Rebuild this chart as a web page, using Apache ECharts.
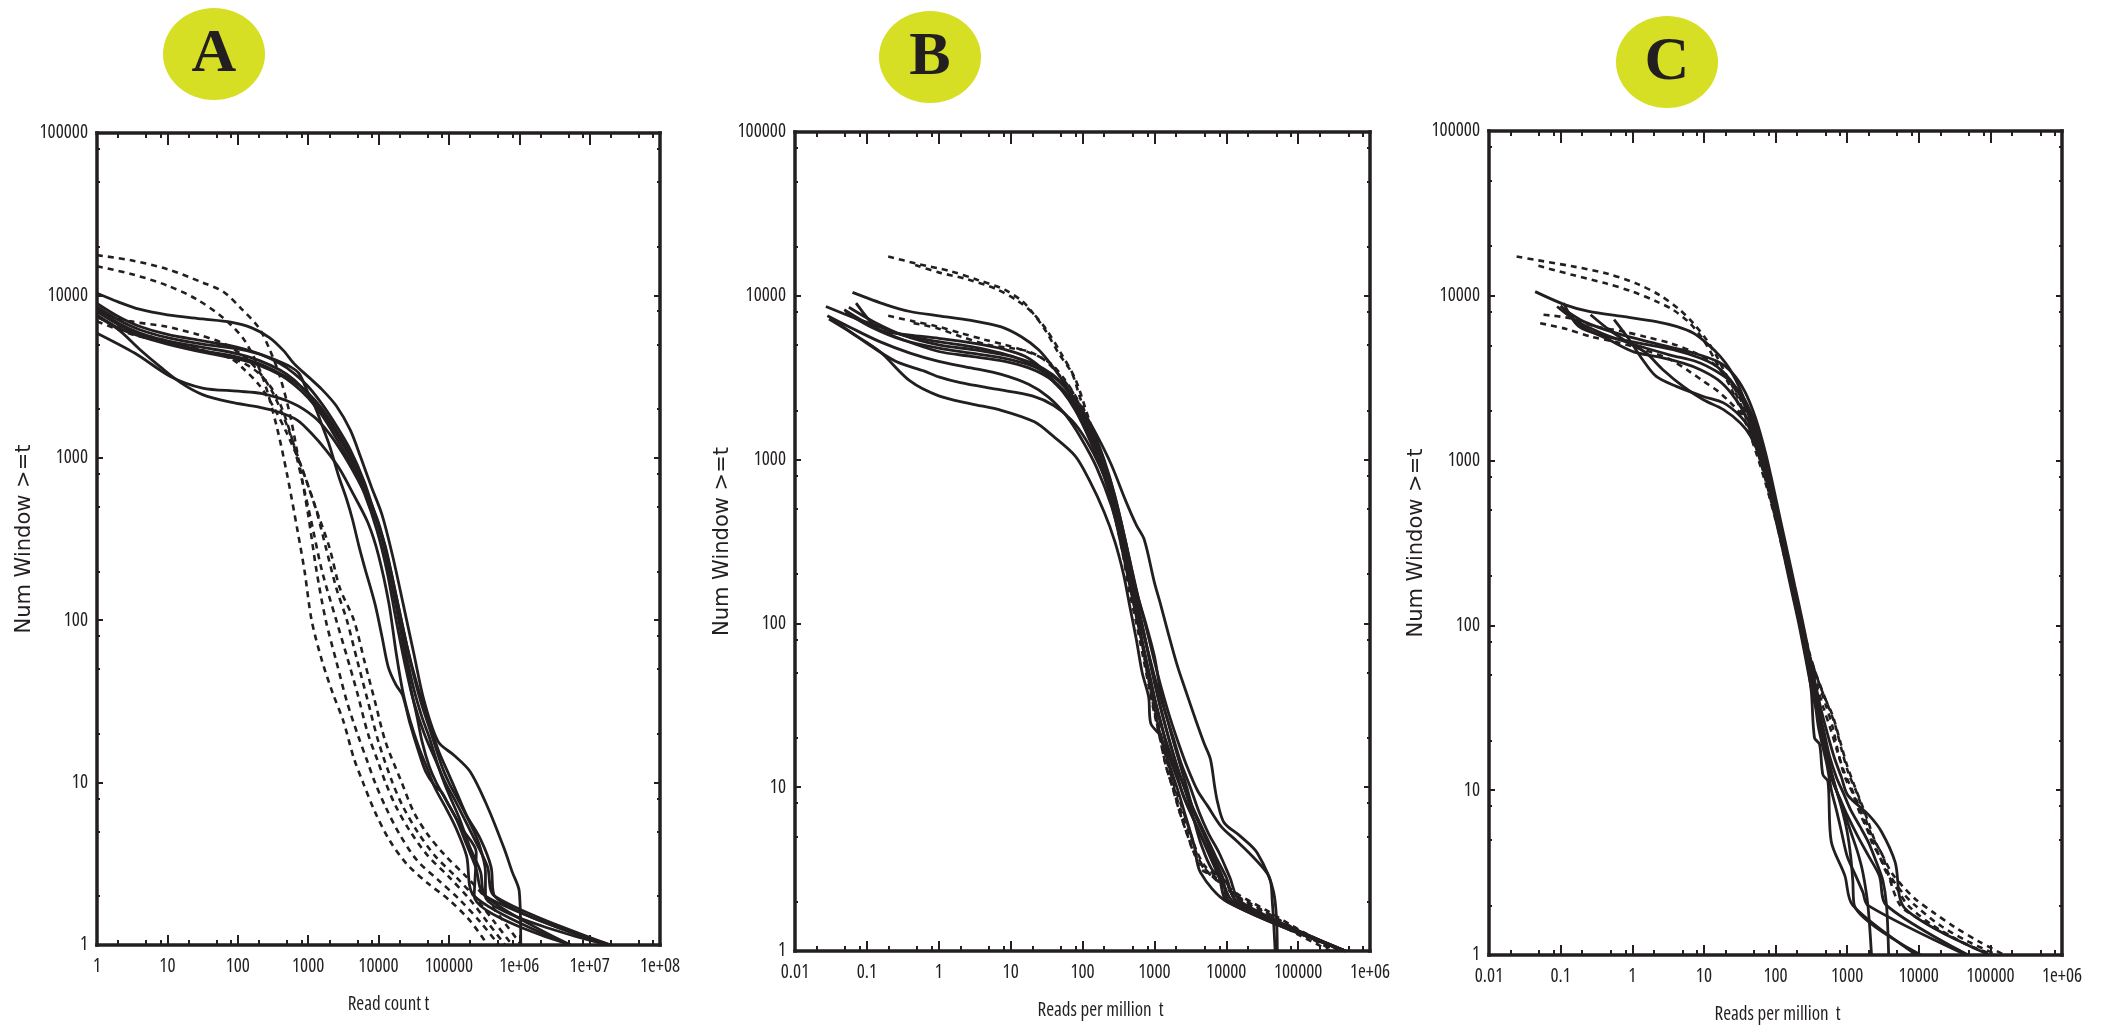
<!DOCTYPE html>
<html><head><meta charset="utf-8">
<script src="https://cdn.jsdelivr.net/npm/echarts@6/dist/echarts.min.js"></script>
<style>html,body{margin:0;padding:0;background:#fff;}#chart{width:2103px;height:1036px;}</style>
</head><body><div id="chart"></div>
<script>
// ---------- tick values and labels ----------
const yTicks = [1, 10, 100, 1000, 10000, 100000];
const yTickLabels = ['1', '10', '100', '1000', '10000', '100000'];
const yMinorTicks = [2, 5, 8, 20, 50, 80, 200, 500, 800, 2000, 5000, 8000, 20000, 50000, 80000];
const xTicksA = [1, 10, 100, 1000, 10000, 100000, 1000000, 10000000, 100000000];
const xTickLabelsA = ['1', '10', '100', '1000', '10000', '100000', '1e+06', '1e+07', '1e+08'];
const xMinorTicksA = [2, 5, 8, 20, 50, 80, 200, 500, 800, 2000, 5000, 8000, 20000, 50000, 80000,
  200000, 500000, 800000, 2000000, 5000000, 8000000, 20000000, 50000000, 80000000];
const xTicksBC = [0.01, 0.1, 1, 10, 100, 1000, 10000, 100000, 1000000];
const xTickLabelsBC = ['0.01', '0.1', '1', '10', '100', '1000', '10000', '100000', '1e+06'];
const xMinorTicksBC = [0.02, 0.05, 0.08, 0.2, 0.5, 0.8, 2, 5, 8, 20, 50, 80, 200, 500, 800,
  2000, 5000, 8000, 20000, 50000, 80000, 200000, 500000, 800000];

const panelLetters = ['A', 'B', 'C'];
const xNames = ['Read count t', 'Reads per million  t', 'Reads per million  t'];
const yName = 'Num Window >=t';

// ---------- Panel A (read count) ----------
const A_dash1 = [[1,17700],[3.16,16400],[10,14500],[31.6,12000],[63,10500],[112,8300],[200,6300],[282,4680],[398,3160],[562,1780],[759,891],[1000,447],[1320,200],[1780,100],[2510,56],[3550,31.6],[5010,20],[7080,13.2],[8910,10],[12600,7.08],[20000,4.79],[35500,3.31],[70800,2.51],[141000,1.91],[282000,1.38],[513000,1]];
const A_dash2 = [[1,15100],[3.16,13500],[10,11500],[25.1,9550],[63,7240],[126,5250],[224,3160],[355,1580],[501,794],[708,355],[891,200],[1120,100],[1580,56],[2240,35.5],[3160,24],[4470,14.1],[6030,10],[8910,6.6],[14100,4.47],[25100,3.16],[50100,2.4],[100000,1.9],[200000,1.41],[355000,1]];
const A_dash3 = [[1,6920],[3.16,5750],[10,5130],[31.6,4570],[100,3980],[200,3310],[355,2400],[562,1410],[832,708],[1120,398],[1580,200],[2510,100],[3550,60],[5010,35.5],[7080,20],[10000,13.2],[12600,10],[17800,7.08],[28200,5.01],[50100,3.55],[100000,2.63],[200000,1.9],[355000,1.38],[631000,1]];
const A_dash4 = [[1,7940],[3.02,6920],[9.12,6460],[26.9,5750],[66.1,5010],[126,4170],[200,3390],[316,2510],[501,1580],[794,891],[1260,501],[1780,282],[2510,158],[3550,100],[5010,56],[7080,31.6],[10000,17.8],[15800,10],[22400,7.08],[35500,5.01],[63100,3.55],[126000,2.63],[251000,1.9],[447000,1.38],[794000,1]];
const A_dash5 = [[1,7410],[2.4,6170],[8.13,5370],[26.9,4680],[81.3,4070],[126,3470],[200,2820],[316,2090],[501,1410],[794,891],[1260,501],[2000,282],[2820,158],[4470,100],[6310,56],[8910,31.6],[12600,17.8],[21400,10],[31600,6.6],[50100,4.79],[89100,3.55],[178000,2.63],[316000,2],[562000,1.45],[1070000,1]];
const A_solid1 = [[1,10300],[2,9120],[3.98,8220],[10,7590],[31.6,7160],[79.4,6840],[158,6310],[282,5500],[447,4570],[631,3800],[1000,3160],[1580,2630],[2510,2090],[3980,1480],[5620,1000],[7940,661],[11200,447],[15800,251],[22400,126],[31600,63],[44700,31.6],[70800,17.8],[117000,14.8],[200000,11.7],[355000,7.08],[603000,3.98],[794000,2.82],[1000000,2.14],[1050000,1]];
const A_solid2 = [[1,8910],[2,7410],[3.98,6460],[10,5750],[31.6,5250],[100,4790],[200,4370],[398,3800],[631,3310],[1000,2750],[1580,2140],[2510,1580],[3980,1120],[6310,708],[8910,447],[12600,282],[17800,141],[25100,70.8],[35500,39.8],[50100,25.1],[70800,15.8],[100000,11.2],[126000,8.91],[178000,6.31],[282000,4.47],[398000,3.02],[447000,2],[20000000,1]];
const A_solid3 = [[1,8510],[2,7080],[3.98,6170],[10,5500],[31.6,5010],[100,4680],[200,4370],[355,3980],[562,3630],[741,3310],[1000,2510],[1290,2000],[1580,1580],[2000,1200],[2750,759],[3550,550],[4270,417],[5250,288],[6310,214],[8910,126],[11200,79.4],[13800,51.3],[17800,39.8],[21900,34.7],[28200,22.9],[37200,15.5],[46800,11.7],[63100,9.55],[79400,8.71],[100000,7.24],[158000,5.13],[245000,3.72],[229000,2],[5370000,1]];
const A_solid4 = [[1,8220],[2,6760],[3.98,5890],[10,5250],[31.6,4790],[100,4370],[200,3980],[398,3470],[631,3020],[1000,2450],[1580,1910],[2510,1410],[3980,1000],[6310,631],[10000,380],[14100,224],[20000,112],[28200,56.2],[39800,31.6],[56200,20],[79400,12.6],[100000,10],[141000,7.59],[200000,5.62],[269000,4.17],[331000,2.82],[331000,2],[17800000,1]];
const A_solid5 = [[1,7940],[2,6610],[3.98,5750],[10,5130],[31.6,4570],[100,4170],[200,3800],[398,3310],[631,2950],[1000,2510],[1580,2000],[2510,1480],[3980,1050],[6310,661],[10000,398],[13200,251],[17800,132],[24000,66.1],[31600,38],[41700,25.1],[52500,19.1],[70800,12.6],[89100,9.55],[112000,7.59],[141000,6.03],[200000,3.98],[282000,2.82],[331000,2],[5370000,1]];
const A_solid6 = [[1,5850],[3.47,4400],[11.2,3160],[31.6,2690],[100,2570],[214,2490],[603,2170],[1230,1780],[2000,1410],[3160,1050],[5010,741],[7940,501],[11200,316],[15800,158],[21400,79.4],[28200,39.8],[35500,25.1],[41700,17.8],[52500,12.6],[66100,10],[89100,7.94],[126000,6.03],[178000,4.17],[240000,3.02],[331000,2],[17800000,1]];
const A_solid7 = [[1,7410],[2,6170],[3.98,4680],[7.94,3630],[15.8,2880],[31.6,2450],[79.4,2200],[200,2050],[398,1900],[708,1700],[1120,1410],[1780,1120],[2820,851],[4470,589],[7080,398],[10000,251],[14100,126],[17800,63.1],[22400,35.5],[28200,24],[37200,16.6],[47900,12.6],[63100,9.33],[89100,7.08],[126000,5.25],[178000,3.55],[229000,2],[5370000,1]];
const A_solid8 = [[1,7590],[2,6310],[3.98,5620],[10,5010],[31.6,4470],[100,4070],[200,3720],[398,3240],[631,2820],[1000,2340],[1580,1820],[2510,1320],[3980,933],[6310,603],[9550,355],[13200,200],[17800,100],[24000,52.5],[31600,31.6],[44700,20],[63100,14.1],[89100,10],[126000,7.59],[178000,5.62],[251000,4.17],[355000,3.02],[447000,2],[20000000,1]];

// ---------- Panel B (reads per million) ----------
const B_dash1 = [[0.198,17400],[0.469,15800],[1.48,14100],[3.49,12500],[8.26,10900],[14.7,9230],[19.6,8020],[30.1,6210],[46.2,4480],[71.3,3370],[89.1,2510],[126,1580],[178,955],[251,562],[355,282],[447,158],[562,100],[708,60.3],[851,39.8],[1000,28.2],[1200,20],[1410,14.1],[1780,10],[2240,7.08],[2820,5.25],[3550,3.98],[5010,3.16],[7940,2.63],[15800,2],[39800,1.58],[100000,1.26],[282000,1]];
const B_dash2 = [[0.47,15400],[1,13900],[2.51,12600],[6.31,11000],[12.6,9300],[20,7900],[31.6,6200],[50.1,4470],[79.4,3100],[112,2000],[158,1260],[224,759],[316,398],[417,224],[525,132],[661,79.4],[794,50.1],[955,35.5],[1120,25.1],[1350,17.8],[1660,12.6],[2000,8.91],[2510,6.61],[3310,4.79],[4170,3.63],[5620,3.02],[8910,2.51],[17800,2],[50100,1.58],[126000,1.26],[355000,1]];
const B_dash3 = [[0.198,7550],[0.446,6980],[0.953,6500],[2.03,5920],[4.34,5400],[8.32,5020],[14.3,4690],[27.4,4170],[37.9,3790],[56.2,3090],[89.1,2240],[141,1410],[224,794],[316,447],[417,251],[525,141],[631,89.1],[759,56.2],[891,38],[1050,26.3],[1260,17.8],[1510,12.6],[1860,9.55],[2240,7.08],[2820,5.25],[3550,3.98],[4470,3.16],[7080,2.82],[12600,2.24],[31600,1.78],[100000,1.32],[316000,1]];
const B_dash4 = [[0.447,6810],[1,6300],[2,5650],[4.84,5020],[10,4800],[17.8,4570],[28.2,4120],[44.7,3390],[70.8,2630],[112,1780],[178,1070],[263,631],[355,355],[457,200],[562,120],[676,75.9],[794,50.1],[933,35.5],[1100,25.1],[1320,17.8],[1580,13.2],[1910,10],[2400,7.59],[3020,5.62],[3800,4.17],[5010,3.31],[7590,2.82],[14100,2.24],[35500,1.78],[112000,1.32],[398000,1]];
const B_solid1 = [[0.0631,10500],[0.186,8810],[0.398,8020],[1,7550],[2.82,7080],[7.41,6460],[14.1,5620],[24.5,4680],[38,3720],[58.9,2820],[89.1,2090],[138,1510],[200,1000],[282,603],[398,316],[562,158],[759,100],[1000,63.1],[1260,35.5],[1780,20],[2240,14.1],[2820,10],[3550,7.08],[5010,5.01],[7080,3.55],[8910,2.82],[11200,2],[457000,1]];
const B_solid2 = [[0.0708,9020],[0.135,6350],[0.186,6030],[0.398,5750],[1,5500],[3.16,5130],[7.94,4730],[15.8,4270],[28.2,3550],[50.1,2690],[79.4,2000],[126,1320],[200,794],[282,447],[398,224],[525,126],[661,79.4],[891,44.7],[1120,28.2],[1410,20],[2000,12.6],[2510,8.91],[3550,6.31],[4790,4.79],[6610,3.55],[8910,2.63],[12600,2],[457000,1]];
const B_solid3 = [[0.0269,8610],[0.0631,7410],[0.151,6460],[0.324,5750],[1,5250],[2.82,4900],[7.41,4470],[14.1,4070],[27.5,3470],[42.7,2880],[72.4,2240],[112,1580],[178,1000],[263,562],[363,316],[479,158],[603,100],[794,56.2],[1000,35.5],[1260,24],[1580,15.8],[2090,11.2],[2820,7.94],[3980,5.62],[5620,3.98],[7940,2.82],[10500,2],[457000,1]];
const B_solid4 = [[0.0484,8220],[0.135,6310],[0.324,5370],[1,4570],[2.82,4270],[8.32,3980],[17.8,3630],[33.9,3160],[58.9,2570],[89.1,2000],[141,1320],[224,794],[316,447],[427,251],[562,141],[708,89.1],[933,50.1],[1200,31.6],[1580,20],[2090,13.2],[2630,10],[3550,7.24],[5010,5.25],[7080,3.8],[10000,2.82],[14100,2],[457000,1]];
const B_solid5 = [[0.0282,7550],[0.0631,6310],[0.151,5250],[0.398,4470],[1,3980],[2.82,3630],[7.41,3310],[17.8,2880],[33.9,2400],[58.9,1860],[95.5,1350],[158,891],[251,525],[355,302],[468,178],[603,112],[794,70.8],[1000,47.9],[1320,31.6],[1780,20.9],[2340,14.1],[3160,10],[4170,7.08],[5620,5.25],[7940,3.98],[11200,2.82],[15800,2],[457000,1]];
const B_solid6 = [[0.0297,7210],[0.0631,5890],[0.151,4570],[0.398,3020],[1,2450],[2.82,2190],[7.41,2000],[21.4,1700],[39.8,1380],[79.4,1050],[126,741],[200,479],[282,316],[372,200],[457,126],[562,79.4],[676,50.1],[832,35.5],[891,24.5],[1230,20.4],[1580,14.1],[2090,9.77],[2820,6.31],[3550,4.47],[4370,3.02],[10200,2],[457000,1]];
const B_solid7 = [[0.0316,7330],[0.0794,5500],[0.251,3980],[0.631,3470],[1,3200],[2,2950],[6.31,2690],[20,2450],[39.8,2140],[70.8,1740],[112,1320],[178,891],[263,562],[355,355],[447,224],[562,141],[708,89.1],[891,56.2],[1120,35.5],[1410,24],[1780,16.6],[2240,12],[2820,8.91],[3550,6.31],[4470,4.47],[6310,3.16],[10000,2.63],[14100,2],[457000,1]];
const B_solid8 = [[0.0501,7940],[0.126,6310],[0.316,5370],[1,4790],[2.82,4470],[7.94,4170],[17.8,3800],[35.5,3310],[63.1,2630],[100,2000],[158,1410],[251,933],[398,562],[562,398],[724,324],[1000,178],[1230,129],[1580,85.1],[2090,55],[2820,37.2],[3760,25.7],[4900,18.6],[6030,14.8],[6920,10],[7590,8.05],[9330,6.08],[15800,5.01],[26900,3.98],[45700,2.28],[51300,1]];
const B_solid9 = [[0.0562,8510],[0.126,6920],[0.316,5750],[1,5010],[3.16,4680],[8.91,4320],[20,3890],[38,3310],[63.1,2630],[100,1910],[158,1260],[240,759],[331,447],[447,251],[603,141],[794,89.1],[1000,58.9],[1260,39.8],[1660,26.3],[2240,17.8],[2880,13.2],[3980,9.55],[5500,7.69],[8510,5.75],[14100,4.68],[24000,3.72],[39800,2.82],[43700,2],[47900,1]];

// ---------- Panel C (reads per million) ----------
const C_dash1 = [[0.0243,17300],[0.049,16400],[0.145,15100],[0.427,13700],[1.13,11900],[2.41,10100],[4.6,8220],[7.1,6820],[10.9,5410],[15.1,4290],[18.8,3560],[25.1,2820],[35.5,2000],[50.1,1320],[70.8,794],[95.5,479],[126,288],[166,174],[214,110],[269,75.9],[355,52.5],[468,38],[631,28.2],[794,20],[1000,14.1],[1260,10.7],[1580,8.32],[2000,6.31],[2400,5.01],[3160,3.98],[4170,3.16],[5890,2.63],[8910,2.19],[15800,1.82],[31600,1.48],[70800,1.2],[158000,1]];
const C_dash2 = [[0.049,15200],[0.145,13400],[0.427,11900],[1.01,10600],[2.16,9250],[3.72,8220],[6.37,6820],[9.82,5410],[15.1,3910],[23.3,2820],[35.5,1860],[52.5,1150],[74.1,708],[100,437],[132,275],[174,166],[224,105],[282,70.8],[372,50.1],[501,35.5],[676,25.1],[832,17.8],[1050,12.6],[1320,10],[1660,7.59],[2000,5.89],[2450,4.86],[3160,3.98],[3800,3.02],[5500,2],[10000,1.66],[25100,1.32],[56200,1.12],[112000,1]];
const C_dash3 = [[0.0577,7670],[0.13,7330],[0.308,6520],[0.733,6080],[1.58,5620],[3.55,5130],[7.08,4570],[12.6,3980],[21.4,3160],[31.6,2400],[44.7,1660],[63.1,1050],[85.1,661],[110,417],[141,263],[182,166],[234,105],[295,69.2],[380,47.9],[501,33.1],[631,24],[759,16.6],[933,12],[1200,9.55],[1510,7.24],[1910,5.75],[2240,4.79],[2820,3.98],[3550,3.16],[5010,2.51],[7080,2],[15800,1.51],[39800,1.2],[100000,1]];
const C_dash4 = [[0.0518,6820],[0.117,6310],[0.275,5620],[0.589,5250],[1.26,4790],[3.16,4170],[6.31,3470],[10,3020],[15.8,2630],[22.4,2290],[31.6,1950],[44.7,1480],[63.1,1000],[85.1,631],[110,398],[141,251],[182,158],[234,100],[295,66.1],[372,44.7],[468,31.6],[589,23.4],[724,17.4],[891,13.2],[1120,10.5],[1410,8.32],[1780,6.31],[2240,5.01],[2820,3.98],[3980,3.02],[5890,2.4],[8910,2],[20000,1.51],[50100,1.2],[126000,1]];
const C_solid1 = [[0.0441,10600],[0.116,8810],[0.248,8040],[0.733,7500],[2.16,6980],[4.13,6520],[7.1,5940],[10.9,5160],[16.9,4290],[23.3,3560],[32.3,2690],[44.7,1860],[61.7,1220],[83.2,708],[105,447],[132,282],[166,178],[209,112],[263,70.8],[316,44.7],[380,30.2],[447,21.4],[525,15.1],[631,11.2],[794,8.91],[1000,7.08],[1410,5.25],[2000,3.98],[2820,3.02],[3550,2],[49000,1]];
const C_solid2 = [[0.11,9040],[0.179,6520],[0.427,5680],[1.26,5160],[3.72,4710],[8.81,4190],[15.1,3730],[23.3,3100],[32.3,2450],[44.7,1770],[63.1,1150],[85.1,692],[107,437],[135,275],[170,174],[214,110],[263,69.2],[316,39.8],[350,20.8],[412,19],[459,12.4],[540,11.3],[601,4.86],[927,3.04],[1200,2],[9330,1]];
const C_solid3 = [[0.1,8710],[0.209,6460],[0.49,5370],[1.05,4570],[2.24,4270],[5.25,3890],[9.12,3550],[15.8,3090],[24,2570],[35.5,2000],[50.1,1450],[67.6,955],[89.1,603],[112,380],[141,240],[178,151],[224,95.5],[275,60.3],[331,39.8],[398,28.2],[479,20],[575,14.1],[708,10],[891,7.59],[1120,5.62],[1410,4.17],[1660,3.16],[1950,2],[2190,1]];
const C_solid4 = [[0.262,7670],[0.475,6220],[0.91,5160],[1.56,4500],[2.68,3560],[5.13,2820],[9.82,2340],[18.8,2040],[32.3,1690],[44.7,1410],[63.1,1000],[85.1,631],[107,398],[135,251],[170,158],[214,100],[263,63.1],[316,41.7],[363,31.6],[398,24],[447,19.1],[525,14.1],[603,10],[708,7.59],[832,5.62],[1000,3.98],[1320,3.02],[1660,2.4],[1950,2],[45700,1]];
const C_solid5 = [[0.558,7160],[0.91,5410],[1.4,4090],[2.16,3240],[4.13,2820],[9.82,2450],[18.8,2240],[32.3,1860],[44.7,1540],[63.1,1050],[85.1,661],[107,417],[135,263],[170,166],[214,105],[263,66.1],[316,44.7],[372,31.6],[427,24],[501,17.8],[603,12.6],[708,10],[851,7.59],[1000,5.62],[1120,3.98],[1200,2.82],[1260,2],[10700,1]];
const C_solid6 = [[0.0891,8610],[0.162,7080],[0.389,5890],[1.15,5010],[3.39,4370],[7.94,3980],[15.1,3470],[25.1,2950],[37.2,2340],[52.5,1660],[70.8,1050],[91.2,661],[115,417],[145,263],[182,166],[229,105],[282,66.1],[339,44.7],[398,31.6],[479,22.4],[575,15.8],[708,12],[891,9.55],[1120,7.59],[1510,6.03],[2000,4.79],[2630,3.55],[3160,2.82],[3550,2],[3800,1]];
const C_solid7 = [[0.115,8220],[0.219,6920],[0.631,5890],[2.14,5130],[6.31,4570],[15.8,3980],[25.1,3390],[37.2,2630],[52.5,1820],[72.4,1120],[93.3,692],[117,437],[148,275],[186,174],[234,110],[288,70.8],[355,45.7],[427,31.6],[525,22.4],[661,15.8],[832,12],[1020,9.33],[2000,7.08],[3020,5.6],[4680,3.66],[6460,1.91],[97700,1]];

const A_solids = [A_solid1, A_solid2, A_solid3, A_solid4, A_solid5, A_solid6, A_solid7, A_solid8];
const A_dashes = [A_dash1, A_dash2, A_dash3, A_dash4, A_dash5];
const B_solids = [B_solid1, B_solid2, B_solid3, B_solid4, B_solid5, B_solid6, B_solid7, B_solid8, B_solid9];
const B_dashes = [B_dash1, B_dash2, B_dash3, B_dash4];
const C_solids = [C_solid1, C_solid2, C_solid3, C_solid4, C_solid5, C_solid6, C_solid7];
const C_dashes = [C_dash1, C_dash2, C_dash3, C_dash4];

// ---------- chart building ----------
const INK = '#231f20';
const NARROW = '"Open Sans", "Roboto", sans-serif';
const NARROW_STRETCH = 'condensed';   // font-stretch keyword, passed through the font shorthand
function fmt(values, labels) {
  return function (v) {
    let best = 0, bd = Infinity;
    for (let i = 0; i < values.length; i++) {
      const d = Math.abs(Math.log10(values[i]) - Math.log10(v));
      if (d < bd) { bd = d; best = i; }
    }
    return labels[best];
  };
}
const grids = [
  { left: 97, top: 133, width: 563, height: 812, outerBoundsMode: 'none' },
  { left: 795, top: 132, width: 575, height: 819, outerBoundsMode: 'none' },
  { left: 1489, top: 131, width: 573, height: 824, outerBoundsMode: 'none' }
];
const frameLine = { show: true, onZero: false, lineStyle: { color: INK, width: 3.5, cap: 'square' } };
const tickStyle = { color: INK, width: 2 };
const xAxes = [], yAxes = [];
function addX(gi, min, max, majors, minors, labels, name, shift) {
  const base = { type: 'log', logBase: 10, gridIndex: gi, min: min, max: max, splitLine: { show: false } };
  const idx = xAxes.length;
  xAxes.push(Object.assign({}, base, {
    position: 'bottom', axisLine: frameLine,
    axisTick: { show: true, inside: true, length: 10, customValues: majors, lineStyle: tickStyle },
    axisLabel: { show: true, customValues: majors, formatter: fmt(majors, labels), margin: 12,
      color: INK, fontFamily: NARROW, fontWeight: NARROW_STRETCH, fontSize: 19 },
    name: name, nameLocation: 'middle', nameGap: 50,
    nameTextStyle: { color: INK, fontFamily: NARROW, fontWeight: NARROW_STRETCH, fontSize: 19, padding: [0, 0, 0, shift * 2] }
  }));
  xAxes.push(Object.assign({}, base, { position: 'bottom', axisLine: { show: false },
    axisTick: { show: true, inside: true, length: 5, customValues: minors, lineStyle: tickStyle }, axisLabel: { show: false } }));
  xAxes.push(Object.assign({}, base, { position: 'top', axisLine: frameLine,
    axisTick: { show: true, inside: true, length: 12, customValues: majors, lineStyle: tickStyle }, axisLabel: { show: false } }));
  xAxes.push(Object.assign({}, base, { position: 'top', axisLine: { show: false },
    axisTick: { show: true, inside: true, length: 5, customValues: minors, lineStyle: tickStyle }, axisLabel: { show: false } }));
  return idx;
}
function addY(gi) {
  const base = { type: 'log', logBase: 10, gridIndex: gi, min: 1, max: 100000, splitLine: { show: false } };
  const idx = yAxes.length;
  yAxes.push(Object.assign({}, base, {
    position: 'left', axisLine: frameLine,
    axisTick: { show: true, inside: true, length: 6, customValues: yTicks, lineStyle: tickStyle },
    axisLabel: { show: true, customValues: yTicks, formatter: fmt(yTicks, yTickLabels), margin: 9,
      color: INK, fontFamily: NARROW, fontWeight: NARROW_STRETCH, fontSize: 19 },
    name: yName, nameLocation: 'middle', nameGap: 62,
    nameTextStyle: { color: INK, fontFamily: '"DejaVu Sans", sans-serif', fontSize: 21 }
  }));
  yAxes.push(Object.assign({}, base, { position: 'left', axisLine: { show: false },
    axisTick: { show: true, inside: true, length: 3, customValues: yMinorTicks, lineStyle: tickStyle }, axisLabel: { show: false } }));
  yAxes.push(Object.assign({}, base, { position: 'right', axisLine: frameLine,
    axisTick: { show: true, inside: true, length: 6, customValues: yTicks, lineStyle: tickStyle }, axisLabel: { show: false } }));
  yAxes.push(Object.assign({}, base, { position: 'right', axisLine: { show: false },
    axisTick: { show: true, inside: true, length: 3, customValues: yMinorTicks, lineStyle: tickStyle }, axisLabel: { show: false } }));
  return idx;
}
const panels = [
  { solids: A_solids, dashes: A_dashes, min: 1, max: 100000000, majors: xTicksA, minors: xMinorTicksA, labels: xTickLabelsA, shift: 10 },
  { solids: B_solids, dashes: B_dashes, min: 0.01, max: 1000000, majors: xTicksBC, minors: xMinorTicksBC, labels: xTickLabelsBC, shift: 18 },
  { solids: C_solids, dashes: C_dashes, min: 0.01, max: 1000000, majors: xTicksBC, minors: xMinorTicksBC, labels: xTickLabelsBC, shift: 2 }
];
const series = [];
panels.forEach(function (p, gi) {
  const xi = addX(gi, p.min, p.max, p.majors, p.minors, p.labels, xNames[gi], p.shift);
  const yi = addY(gi);
  p.dashes.forEach(function (d) {
    series.push({ type: 'line', xAxisIndex: xi, yAxisIndex: yi, data: d, symbol: 'none', smooth: 0.3,
      silent: true, lineStyle: { color: INK, width: 2.6, type: [6, 5] } });
  });
  p.solids.forEach(function (d) {
    series.push({ type: 'line', xAxisIndex: xi, yAxisIndex: yi, data: d, symbol: 'none', smooth: 0.3,
      silent: true, lineStyle: { color: INK, width: 2.8, type: 'solid' } });
  });
});
const badges = [ { x: 214, y: 54 }, { x: 930, y: 57 }, { x: 1667, y: 62 } ];
const graphic = [];
badges.forEach(function (b, i) {
  graphic.push({ type: 'circle', x: b.x, y: b.y, scaleY: 46 / 51, shape: { cx: 0, cy: 0, r: 51 },
    style: { fill: '#d6df23' }, silent: true });
  graphic.push({ type: 'text', x: b.x, y: b.y + 1, silent: true,
    style: { text: panelLetters[i], fill: INK, font: 'bold 62px "Liberation Serif", "DejaVu Serif", serif',
      textAlign: 'center', textVerticalAlign: 'middle', align: 'center', verticalAlign: 'middle' } });
});
const chart = echarts.init(document.getElementById('chart'), null, { renderer: 'canvas' });
chart.setOption({
  animation: false,
  backgroundColor: '#ffffff',
  grid: grids,
  xAxis: xAxes,
  yAxis: yAxes,
  series: series,
  graphic: graphic
});
</script>
</body></html>
